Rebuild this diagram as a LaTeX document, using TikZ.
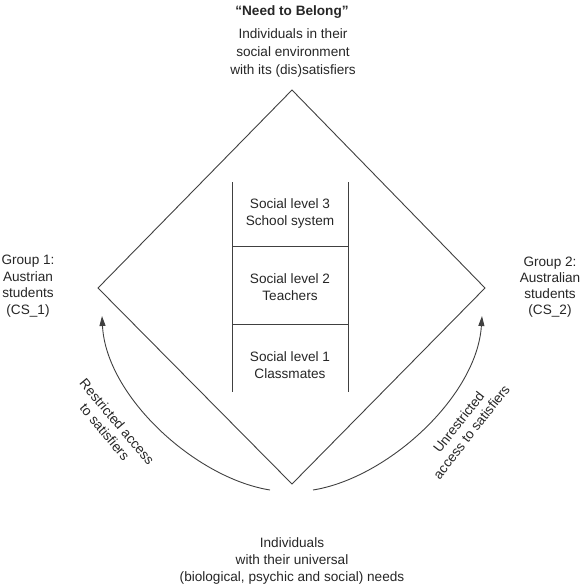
\documentclass[tikz,border=0pt]{standalone}
\usepackage{fontspec}
\setmainfont{Liberation Sans}
\usetikzlibrary{arrows.meta}
\begin{document}
\begin{tikzpicture}[x=1pt,y=-1pt,
  lbl/.style={font=\fontsize{13.6}{17}\selectfont, align=center, inner sep=0pt, text=black!85},
  ln/.style={draw=black!75, line width=0.9pt},
  arr/.style={ln, -{Triangle[length=10pt,width=6pt]}}]
\useasboundingbox (0,0) rectangle (583,584);
% diamond
\coordinate (T) at (292,90);
\coordinate (L) at (98,288);
\coordinate (R) at (485,288);
\coordinate (B) at (292,484);
\draw[ln, line join=miter] (T) -- (R) -- (B) -- (L) -- cycle;
% ladder
\coordinate (l1) at (232,182); \coordinate (l2) at (232,392);
\coordinate (r1) at (348,182); \coordinate (r2) at (348,392);
\coordinate (h1a) at (232,246); \coordinate (h1b) at (348,246);
\coordinate (h2a) at (232,324); \coordinate (h2b) at (348,324);
\draw[ln] (l1) -- (l2);
\draw[ln] (r1) -- (r2);
\draw[ln] (h1a) -- (h1b);
\draw[ln] (h2a) -- (h2b);
\node[lbl] (s3) at (290,213) {Social level 3\\School system};
\node[lbl] (s2) at (290,287) {Social level 2\\Teachers};
\node[lbl] (s1) at (290,365) {Social level 1\\Classmates};
% texts
\node[lbl, font=\fontsize{13.6}{17}\selectfont\bfseries] (title) at (292,12) {“Need to Belong”};
\node[lbl, font=\fontsize{13.6}{18}\selectfont] (top) at (293,53) {Individuals in their\\social environment\\with its (dis)satisfiers};
\node[lbl, font=\fontsize{13.6}{16.6}\selectfont] (g1) at (28,286) {Group 1:\\Austrian\\students\\(CS\_1)};
\node[lbl, font=\fontsize{13.6}{16.2}\selectfont] (g2) at (550,287) {Group 2:\\Australian\\students\\(CS\_2)};
\node[lbl] (bot) at (292,561) {Individuals\\with their universal\\(biological, psychic and social) needs};
% arrows
\coordinate (a1s) at (270,490); \coordinate (a1e) at (102,316);
\coordinate (a2s) at (313,490); \coordinate (a2e) at (482,316);
\draw[arr] (a1s) .. controls (195,478) and (106,396) .. (a1e);
\draw[arr] (a2s) .. controls (388,478) and (477,396) .. (a2e);
\node[lbl, font=\fontsize{13.6}{16}\selectfont, rotate=-50] (rl) at (111,427) {Restricted access\\to satisfiers};
\node[lbl, font=\fontsize{13.6}{16}\selectfont, rotate=52] (ul) at (465,427) {Unrestricted\\access to satisfiers};
\end{tikzpicture}
\end{document}
